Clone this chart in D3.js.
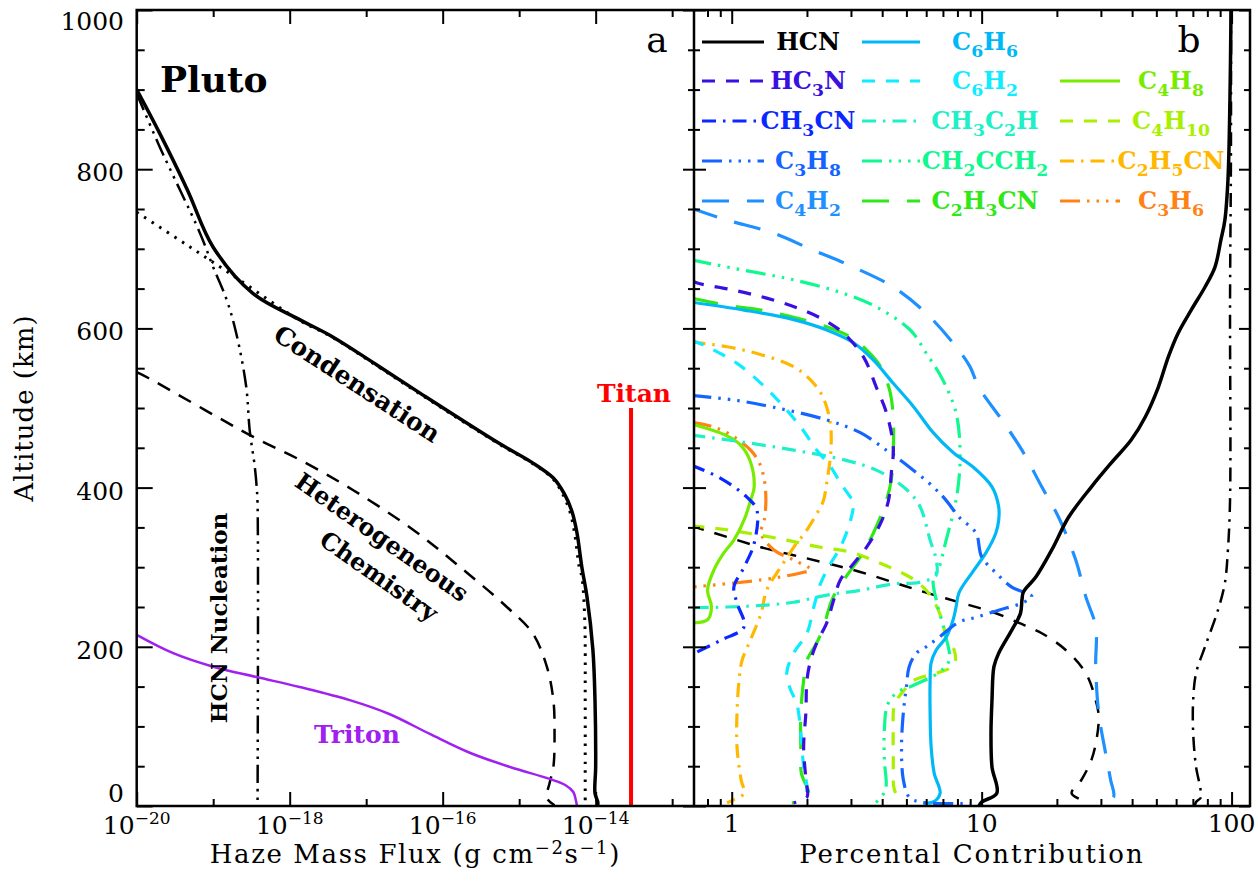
<!DOCTYPE html>
<html><head><meta charset="utf-8">
<script src="https://cdn.jsdelivr.net/npm/d3@7"></script>
<style>body{margin:0;background:#fff}svg{display:block}text{font-family:"DejaVu Serif",serif;fill:#000}</style>
</head><body><svg id="c" width="1258" height="890"></svg>
<script>
// ---------- Panel a: haze mass flux (altitude km, flux g cm-2 s-1) ----------
const totalFlux = [[900,1.0e-20],[845,2.0e-20],[774,4.6e-20],[702,1.0e-19],[644,3.3e-19],[611,1.35e-18],[589,3.7e-18],[554,1.38e-17],[519,5.0e-17],[455,5.6e-16],[432,1.45e-15],[412,2.8e-15],[392,3.9e-15],[370,4.9e-15],[343,5.7e-15],[300,6.6e-15],[263,7.7e-15],[196,9.2e-15],[133,9.8e-15],[49,1.0e-14],[16,9.8e-15],[4,1.07e-14],[0,1.05e-14]];
const condensFlux = [[746,1.0e-20],[705,4.5e-20],[661,2.2e-19],[611,1.3e-18],[589,3.6e-18],[554,1.33e-17],[519,4.8e-17],[455,5.4e-16],[432,1.4e-15],[412,2.7e-15],[392,3.7e-15],[370,4.6e-15],[343,5.3e-15],[300,6.1e-15],[288,6.6e-15],[234,7.2e-15],[133,7.3e-15],[50,7.3e-15],[0,7.3e-15]];
const heteroFlux = [[545,1.0e-20],[538,1.4e-20],[464,3.3e-19],[435,1.35e-18],[397,6.7e-18],[347,4.1e-17],[300,1.7e-16],[250,6.9e-16],[217,1.5e-15],[175,2.3e-15],[133,2.8e-15],[92,2.9e-15],[49,2.8e-15],[29,2.5e-15],[10,2.3e-15],[1,2.9e-15]];
const nucleFlux = [[895,1.0e-20],[828,2.0e-20],[720,6.7e-20],[677,1.0e-19],[636,1.5e-19],[594,2.0e-19],[527,2.7e-19],[472,3.0e-19],[426,3.5e-19],[401,3.7e-19],[380,3.8e-19],[0,3.8e-19]];
const tritonFlux = [[215,1.0e-20],[192,3.0e-20],[175,1.0e-19],[162,3.7e-19],[149.5,1.35e-18],[133,6.1e-18],[115.6,2.0e-17],[90.5,6.8e-17],[66.6,2.3e-16],[49,7.6e-16],[34,2.5e-15],[26.4,4.0e-15],[17.6,5.1e-15],[7.5,5.5e-15],[0,5.7e-15]];
const titanFlux = [[0,2.9e-14],[500,2.9e-14]];
const fluxTicks = [1e-20,1e-18,1e-16,1e-14];
const fluxTickExp = ["−20","−18","−16","−14"];
const fluxMinor = [1e-19,1e-17,1e-15,1e-13];
const altTicks = [0,200,400,600,800,1000];

// ---------- Panel b: percental contribution (altitude km, %) ----------
const pctHCN = [[1000,99.5],[887,98.5],[786,96.7],[736,94.0],[711,90.6],[677,85.8],[652,78.3],[623,68.9],[594,61.1],[564,55.8],[526,50.9],[489,45.2],[460,39.7],[431,33.0],[401,27.5],[363,22.3],[322,19.1],[288,16.5],[269,14.7],[259,14.5],[242,14.3],[221,13.2],[192,11.7],[175,11.2],[133,11.0],[92,10.9],[49,11.0],[16,11.5],[5,10.0],[0,9.75]];
const pctHetero = [[352,0.69],[338,0.958],[325,1.31],[315,1.77],[305,2.40],[294,3.27],[281,4.43],[268,6.0],[252,9.0],[244,11.0],[230,14.1],[217,17.4],[196,21.7],[167,26.1],[133,28.6],[112,29.4],[83,28.8],[58,27.5],[33,25.1],[16,22.9],[7,25.1],[1,26.3]];
const pctNucle = [[1000,99.5],[812,99.4],[636,98.6],[384,98.6],[322,96.7],[280,94.0],[246,88.2],[200,78.3],[167,72.1],[133,70.2],[92,70.2],[49,72.1],[24,74.8],[11,75.5],[5,72.1],[0,71.3]];
const pctHC3N = [[660,0.69],[657,0.728],[648,1.02],[638,1.38],[626,1.82],[611,2.33],[594,2.80],[564,3.37],[526,3.79],[494,4.16],[451,4.43],[418,4.35],[384,4.24],[355,3.94],[325,3.46],[300,2.99],[284,2.72],[259,2.56],[230,2.40],[205,2.19],[183,2.07],[158,2.00],[117,1.98],[74,1.94],[33,1.98],[11,2.00],[4,1.77]];
const pctCH3CN = [[428,0.69],[412,0.90],[388,1.15],[372,1.26],[330,1.23],[300,1.12],[275,1.02],[255,1.05],[225,1.12],[208,0.90],[190,0.69]];
const pctC3H8 = [[516,0.69],[510,1.02],[501,1.47],[485,2.40],[469,3.27],[447,4.16],[426,5.13],[401,6.40],[384,7.21],[363,8.12],[343,9.49],[313,10.0],[293,11.4],[275,13.2],[263,15.9],[255,14.5],[246,11.7],[237,9.49],[231,8.12],[212,6.76],[200,6.00],[192,5.48],[175,5.13],[150,5.00],[117,4.86],[74,4.78],[33,4.86],[11,5.13],[5,5.68],[3,8.98]];
const pctC4H2 = [[751,0.69],[736,0.958],[721,1.43],[698,2.13],[677,3.07],[652,4.43],[619,6.00],[577,7.90],[552,8.98],[526,9.75],[485,12.05],[447,14.5],[401,17.4],[363,20.3],[309,23.8],[263,26.1],[225,28.6],[175,28.6],[117,29.4],[67,31.3],[33,32.8],[11,33.7],[4,30.2],[1,29.4]];
const pctC6H6 = [[633,0.69],[623,1.12],[611,1.77],[598,2.40],[582,3.07],[560,3.69],[531,4.43],[502,5.33],[469,6.40],[444,7.69],[426,9.23],[401,11.0],[376,11.7],[359,11.7],[343,11.4],[318,10.4],[293,9.15],[268,8.12],[250,7.90],[234,7.69],[212,7.21],[196,6.58],[180,6.28],[158,6.22],[117,6.22],[74,6.28],[41,6.46],[16,6.82],[5,6.40],[4,5.84]];
const pctC6H2 = [[585,0.69],[577,0.797],[556,1.05],[531,1.31],[506,1.57],[476,1.89],[447,2.19],[426,2.49],[406,2.72],[388,2.99],[384,3.07],[359,2.99],[325,2.72],[305,2.49],[280,2.27],[250,2.13],[217,2.00],[192,1.77],[167,1.66],[146,1.72],[129,1.82],[92,1.89],[49,1.94],[24,2.00],[7,1.98]];
const pctCH3C2H = [[466,0.69],[457,1.12],[447,1.77],[435,2.80],[422,3.79],[401,4.86],[378,5.63],[334,6.22],[309,6.58],[290,6.58],[281,5.63],[279,4.43],[271,3.27],[265,2.40],[256,1.77],[252,1.31],[250,0.958],[249,0.69]];
const pctCH2CCH2 = [[686,0.69],[673,1.12],[661,1.77],[644,2.80],[627,3.79],[598,5.18],[569,6.0],[535,7.0],[494,7.9],[444,8.2],[401,8.05],[368,7.69],[334,7.21],[300,6.76],[284,6.40],[259,6.58],[221,7.08],[183,7.41],[168,6.76],[152,5.37],[142,4.56],[127,4.20],[95,4.08],[58,4.08],[20,4.12],[4,3.76]];
const pctC2H3CN = [[638,0.69],[629,0.958],[623,1.31],[614,1.77],[602,2.40],[589,2.99],[573,3.46],[552,3.94],[519,4.31],[485,4.43],[444,4.43],[410,4.35],[384,4.16],[343,3.69],[313,3.27],[296,2.99],[271,2.63],[255,2.49],[225,2.33],[205,2.19],[183,2.00],[158,1.94],[117,1.89],[74,1.89],[41,1.90],[16,2.03],[7,1.94],[4,1.74]];
const pctC4H8 = [[480,0.69],[465,0.958],[454,1.08],[435,1.18],[401,1.23],[384,1.19],[359,1.12],[334,1.02],[318,0.93],[297,0.85],[271,0.80],[250,0.83],[234,0.80],[230,0.69]];
const pctC4H10 = [[352,0.69],[347,0.958],[334,1.66],[325,2.27],[319,2.99],[307,3.79],[288,5.13],[275,5.84],[259,6.40],[230,7.01],[209,7.21],[196,7.76],[177,7.76],[168,6.76],[158,5.37],[146,4.91],[127,4.48],[95,4.43],[58,4.43],[20,4.48],[8,4.73]];
const pctC2H5CN = [[583,0.69],[577,0.958],[567,1.31],[552,1.77],[535,2.07],[519,2.27],[501,2.40],[476,2.49],[444,2.49],[406,2.40],[384,2.33],[376,2.27],[347,2.00],[325,1.77],[300,1.57],[271,1.38],[242,1.31],[209,1.19],[183,1.10],[158,1.07],[117,1.05],[74,1.05],[33,1.09],[16,1.12],[8,1.02],[4,0.958]];
const pctC3H6 = [[482,0.69],[476,0.85],[464,1.02],[447,1.19],[431,1.29],[410,1.35],[384,1.37],[359,1.35],[343,1.31],[322,1.47],[309,1.77],[297,2.07],[293,1.9],[284,1.31],[275,0.69]];
const pctTicks = [1,10,100];
const pctTickLabels = ["1","10","100"];
const pctMinor = [0.8,0.9,2,3,4,5,6,7,8,9,20,30,40,50,60,70,80,90];

// ---------- layout ----------
const svg = d3.select("#c");
const X0 = 136.7, XM = 694, X1 = 1250, Y0 = 10, Y1 = 806;
const y = d3.scaleLinear().domain([0,1000]).range([Y1,Y0]);
const xL = d3.scaleLog().domain([1e-20,1.93e-13]).range([X0,XM]);
const xR = d3.scaleLog().domain([0.7,118.5]).range([XM-1,X1]);

const defs = svg.append("defs");
defs.append("clipPath").attr("id","clipL").append("rect").attr("x",X0).attr("y",Y0).attr("width",XM-X0).attr("height",Y1-Y0);
defs.append("clipPath").attr("id","clipR").append("rect").attr("x",XM).attr("y",Y0).attr("width",X1-XM).attr("height",Y1-Y0);

const curve = d3.curveCatmullRom.alpha(0.5);
const lineL = d3.line().x(d=>xL(d[1])).y(d=>y(d[0])).curve(curve);
const lineR = d3.line().x(d=>xR(d[1])).y(d=>y(d[0])).curve(curve);

const DASH = {solid:null, dotted:"2.5,6.5", dashed:"13,11", dashdot:"14,7,2.5,7", dashdot3:"20,7,2.5,7,2.5,7,2.5,7", longdash:"27,18"};

// ---------- panel a lines ----------
const gL = svg.append("g").attr("clip-path","url(#clipL)");
const leftSeries = [
  {data:nucleFlux, dash:"18,6,2.5,6,2.5,6,2.5,6", w:2.5, c:"#000"},
  {data:heteroFlux, dash:"14,10", w:2.5, c:"#000"},
  {data:condensFlux, dash:"2.5,6.5", w:3, c:"#000"},
  {data:totalFlux, dash:null, w:3.5, c:"#000"},
  {data:tritonFlux, dash:null, w:2.5, c:"#a020f0"}
];
leftSeries.forEach(s=>{
  gL.append("path").attr("d",lineL(s.data)).attr("fill","none").attr("stroke",s.c)
    .attr("stroke-width",s.w).attr("stroke-dasharray",s.dash);
});
gL.append("path").attr("d",d3.line().x(d=>xL(d[1])).y(d=>y(d[0]))(titanFlux))
  .attr("stroke","#ff0000").attr("stroke-width",4).attr("fill","none");

// ---------- panel b lines ----------
const colors = {HCN:"#000000",HC3N:"#3a10e0",CH3CN:"#0a28ff",C3H8:"#1464ff",C4H2:"#1e90ff",C6H6:"#00b8f5",C6H2:"#10ecff",CH3C2H:"#20f0c8",CH2CCH2:"#10f890",C2H3CN:"#30e818",C4H8:"#78ec00",C4H10:"#a8f000",C2H5CN:"#ffb800",C3H6:"#ff8214"};
const rightSeries = [
  {key:"HCN", label:"HCN", data:pctHCN, st:"solid", col:0,row:0},
  {key:"HC3N", label:"HC{3}N", data:pctHC3N, st:"dashed", col:0,row:1},
  {key:"CH3CN", label:"CH{3}CN", data:pctCH3CN, st:"dashdot", col:0,row:2},
  {key:"C3H8", label:"C{3}H{8}", data:pctC3H8, st:"dashdot3", col:0,row:3},
  {key:"C4H2", label:"C{4}H{2}", data:pctC4H2, st:"longdash", col:0,row:4},
  {key:"C6H6", label:"C{6}H{6}", data:pctC6H6, st:"solid", col:1,row:0},
  {key:"C6H2", label:"C{6}H{2}", data:pctC6H2, st:"dashed", col:1,row:1},
  {key:"CH3C2H", label:"CH{3}C{2}H", data:pctCH3C2H, st:"dashdot", col:1,row:2},
  {key:"CH2CCH2", label:"CH{2}CCH{2}", data:pctCH2CCH2, st:"dashdot3", col:1,row:3},
  {key:"C2H3CN", label:"C{2}H{3}CN", data:pctC2H3CN, st:"longdash", col:1,row:4},
  {key:"C4H8", label:"C{4}H{8}", data:pctC4H8, st:"solid", col:2,row:1},
  {key:"C4H10", label:"C{4}H{10}", data:pctC4H10, st:"dashed", col:2,row:2},
  {key:"C2H5CN", label:"C{2}H{5}CN", data:pctC2H5CN, st:"dashdot", col:2,row:3},
  {key:"C3H6", label:"C{3}H{6}", data:pctC3H6, st:"dashdot3", col:2,row:4}
];
const gR = svg.append("g").attr("clip-path","url(#clipR)");
gR.append("path").attr("d",lineR(pctHetero)).attr("fill","none").attr("stroke","#000").attr("stroke-width",2.5).attr("stroke-dasharray",DASH.dashed);
gR.append("path").attr("d",lineR(pctNucle)).attr("fill","none").attr("stroke","#000").attr("stroke-width",2.5).attr("stroke-dasharray",DASH.dashdot);
rightSeries.slice().reverse().forEach(s=>{
  gR.append("path").attr("d",lineR(s.data)).attr("fill","none").attr("stroke",colors[s.key])
    .attr("stroke-width", s.key==="HCN"?3.5:3.2).attr("stroke-dasharray",DASH[s.st]);
});

// ---------- legend ----------
const legCols = [{x0:702,x1:764,tx:808},{x0:862,x1:920,tx:985},{x0:1060,x1:1120,tx:1171}];
const legRows = [42,81,121,161,201];
function chemText(g, str, x, yb, color, size){
  const t = g.append("text").attr("x",x).attr("y",yb).attr("text-anchor","middle")
    .attr("font-size",size).attr("font-weight","bold").style("fill",color);
  const parts = str.split(/(\{\d+\})/).filter(p=>p.length);
  let sub=false;
  parts.forEach(p=>{
    if(p[0]==="{"){
      t.append("tspan").attr("dy",7).attr("font-size",size*0.72).text(p.slice(1,-1)); sub=true;
    } else {
      t.append("tspan").attr("dy",sub?-7:0).text(p); sub=false;
    }
  });
  return t;
}
const gLeg = svg.append("g");
rightSeries.forEach(s=>{
  const c = legCols[s.col], yy = legRows[s.row];
  gLeg.append("line").attr("x1",c.x0).attr("x2",c.x1).attr("y1",yy).attr("y2",yy)
    .attr("stroke",colors[s.key]).attr("stroke-width",3).attr("stroke-dasharray",DASH[s.st]);
  chemText(gLeg, s.label, c.tx, yy+8, colors[s.key], 24);
});

// ---------- axes ----------
function styleAxis(g){ g.select(".domain").remove(); g.selectAll("line").attr("stroke","#000").attr("stroke-width",2); g.selectAll("text").remove(); }
const altMinor = d3.range(50,1000,50).filter(v=>v%200!==0);
svg.append("g").attr("transform",`translate(0,${Y1})`).call(d3.axisBottom(xL).tickValues(fluxTicks).tickSizeInner(-14).tickSizeOuter(0)).call(styleAxis);
svg.append("g").attr("transform",`translate(0,${Y1})`).call(d3.axisBottom(xL).tickValues(fluxMinor).tickSizeInner(-7).tickSizeOuter(0)).call(styleAxis);
svg.append("g").attr("transform",`translate(0,${Y0})`).call(d3.axisTop(xL).tickValues(fluxTicks).tickSizeInner(-14).tickSizeOuter(0)).call(styleAxis);
svg.append("g").attr("transform",`translate(0,${Y0})`).call(d3.axisTop(xL).tickValues(fluxMinor).tickSizeInner(-7).tickSizeOuter(0)).call(styleAxis);
[[X0,"L",-16,-8],[XM,"R",-11,-6],[XM,"L",-12,-6],[X1,"R",-11,-6]].forEach(([xx,side,maj,min])=>{
  const ax = side==="L"?d3.axisLeft:d3.axisRight;
  svg.append("g").attr("transform",`translate(${xx},0)`).call(ax(y).tickValues(altTicks).tickSizeInner(maj).tickSizeOuter(0)).call(styleAxis);
  svg.append("g").attr("transform",`translate(${xx},0)`).call(ax(y).tickValues(altMinor).tickSizeInner(min).tickSizeOuter(0)).call(styleAxis);
});
svg.append("g").attr("transform",`translate(0,${Y1})`).call(d3.axisBottom(xR).tickValues(pctTicks).tickSizeInner(-14).tickSizeOuter(0)).call(styleAxis);
svg.append("g").attr("transform",`translate(0,${Y1})`).call(d3.axisBottom(xR).tickValues(pctMinor).tickSizeInner(-7).tickSizeOuter(0)).call(styleAxis);
svg.append("g").attr("transform",`translate(0,${Y0})`).call(d3.axisTop(xR).tickValues(pctTicks).tickSizeInner(-14).tickSizeOuter(0)).call(styleAxis);
svg.append("g").attr("transform",`translate(0,${Y0})`).call(d3.axisTop(xR).tickValues(pctMinor).tickSizeInner(-7).tickSizeOuter(0)).call(styleAxis);

svg.append("rect").attr("x",X0).attr("y",Y0).attr("width",X1-X0).attr("height",Y1-Y0).attr("fill","none").attr("stroke","#000").attr("stroke-width",2.5);
svg.append("line").attr("x1",XM).attr("x2",XM).attr("y1",Y0).attr("y2",Y1).attr("stroke","#000").attr("stroke-width",2.5);

// tick labels
altTicks.forEach(v=>{
  const yb = v===1000 ? 30 : (v===0 ? 802 : y(v)+12);
  svg.append("text").attr("x",124).attr("y",yb).attr("text-anchor","end").attr("font-size",25).text(v);
});
fluxTicks.forEach((v,i)=>{
  const t = svg.append("text").attr("x",xL(v)).attr("y",834).attr("text-anchor","middle").attr("font-size",25);
  t.append("tspan").text("10");
  t.append("tspan").attr("dy",-10).attr("font-size",17).text(fluxTickExp[i]);
});
pctTicks.forEach((v,i)=>{
  svg.append("text").attr("x",xR(v)).attr("y",832).attr("text-anchor","middle").attr("font-size",25).text(pctTickLabels[i]);
});

// axis titles
const xt = svg.append("text").attr("x",(X0+XM)/2).attr("y",863).attr("text-anchor","middle").attr("font-size",26).attr("letter-spacing",1.6);
xt.append("tspan").text("Haze Mass Flux (g cm");
xt.append("tspan").attr("dy",-9).attr("font-size",18).text("−2");
xt.append("tspan").attr("dy",9).text("s");
xt.append("tspan").attr("dy",-9).attr("font-size",18).text("−1");
xt.append("tspan").attr("dy",9).text(")");
svg.append("text").attr("x",(XM+X1)/2).attr("y",863).attr("text-anchor","middle").attr("font-size",26).attr("letter-spacing",2).text("Percental Contribution");
svg.append("text").attr("transform",`translate(33,${(Y0+Y1)/2}) rotate(-90)`).attr("text-anchor","middle").attr("font-size",26).attr("letter-spacing",1).text("Altitude (km)");

// annotations
svg.append("text").attr("x",160).attr("y",92).attr("font-size",36).attr("font-weight","bold").text("Pluto");
svg.append("text").attr("x",657).attr("y",52).attr("text-anchor","middle").attr("font-size",36).text("a");
svg.append("text").attr("x",1189).attr("y",52).attr("text-anchor","middle").attr("font-size",36).text("b");
svg.append("text").attr("transform","translate(357,384) rotate(33)").attr("text-anchor","middle").attr("dominant-baseline","central").attr("font-size",25).attr("font-weight","bold").text("Condensation");
svg.append("text").attr("transform","translate(382,537) rotate(35)").attr("text-anchor","middle").attr("dominant-baseline","central").attr("font-size",24).attr("font-weight","bold").text("Heterogeneous");
svg.append("text").attr("transform","translate(379,576) rotate(35)").attr("text-anchor","middle").attr("dominant-baseline","central").attr("font-size",24).attr("font-weight","bold").text("Chemistry");
svg.append("text").attr("transform","translate(218,618) rotate(-90)").attr("text-anchor","middle").attr("dominant-baseline","central").attr("font-size",23).attr("font-weight","bold").text("HCN Nucleation");
svg.append("text").attr("x",357).attr("y",743).attr("text-anchor","middle").attr("font-size",25).attr("font-weight","bold").style("fill","#a020f0").text("Triton");
svg.append("text").attr("x",634).attr("y",402).attr("text-anchor","middle").attr("font-size",25).attr("font-weight","bold").style("fill","#ff0000").text("Titan");
</script></body></html>
